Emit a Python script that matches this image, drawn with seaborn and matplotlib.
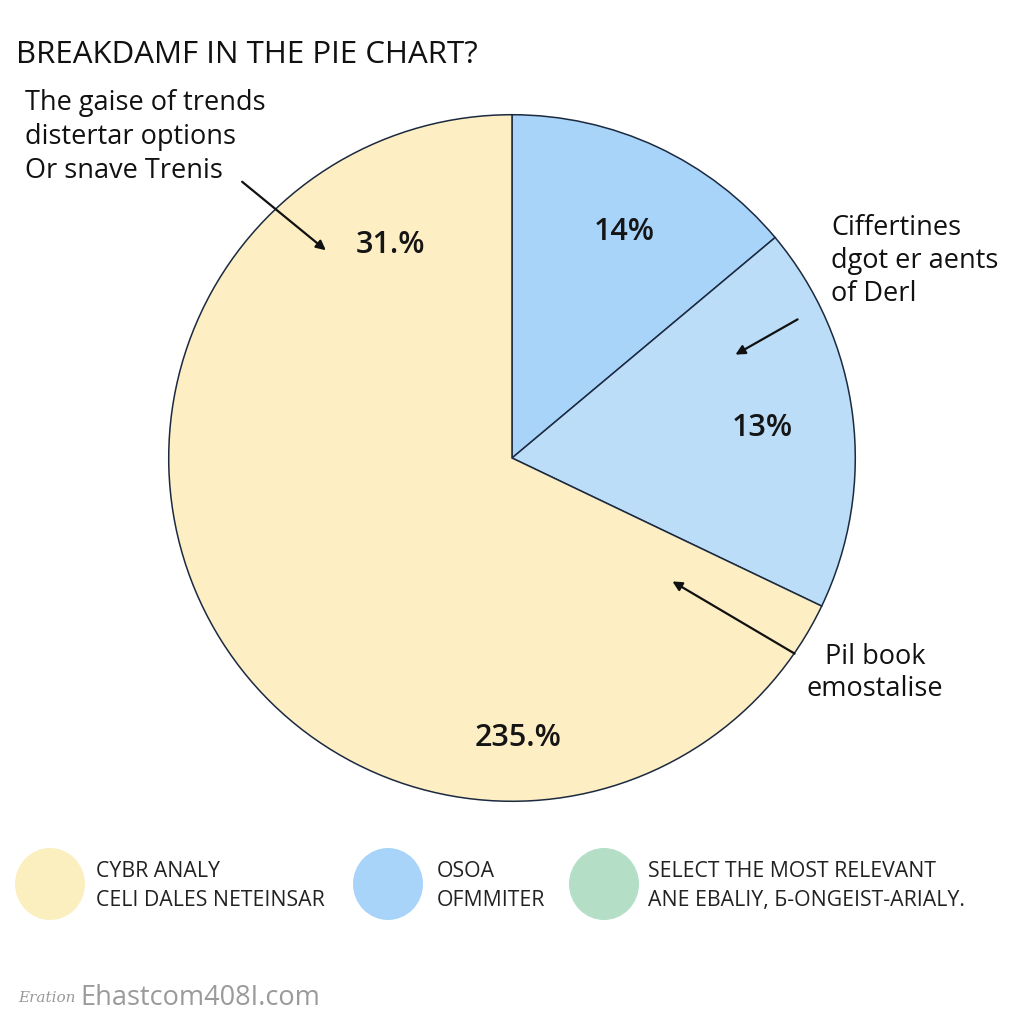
import matplotlib
matplotlib.use("Agg")
import matplotlib.pyplot as plt
from matplotlib.patches import Ellipse
import seaborn as sns

# slice shares (clockwise from 12 o'clock) and their colours
slice_names = ['Blue', 'Light blue', 'Yellow']
slice_shares = [13.9, 18.2, 67.9]
slice_colors = ['#A8D4FA', '#BBDDF7', '#FDEFC3']

# printed percentage labels inside the pie
pct_labels = ['14%', '13%', '31.%', '235.%']

title = 'BREAKDAMF IN THE PIE CHART?'
note_left = 'The gaise of trends\ndistertar options\nOr snave Trenis'
note_right = 'Ciffertines\ndgot er aents\nof Derl'
note_bottom = 'Pil book\nemostalise'

legend_labels = ['CYBR ANALY\nCELI DALES NETEINSAR',
                 'OSOA\nOFMMITER',
                 'SELECT THE MOST RELEVANT\nANE EBALIY, Б-ONGEIST-ARIALY.']
legend_colors = ['#FBEFC0', '#A8D4FA', '#B4DEC6']

sns.set_theme(style='white')
plt.rcParams['font.family'] = ['Open Sans', 'DejaVu Sans']

W = H = 1024
fig = plt.figure(figsize=(10.24, 10.24), dpi=100)
fig.patch.set_facecolor('white')


def fx(px):
    return px / W


def fy(py):
    return 1 - py / H


# pie axes: centre (512, 458), radius 345 px
cx, cy, r = 512, 458, 345
ax = fig.add_axes([fx(cx - r), fy(cy + r), 2 * r / W, 2 * r / H])
ax.pie(slice_shares, colors=slice_colors, startangle=90, counterclock=False,
       radius=1, wedgeprops=dict(edgecolor='#1c2a40', linewidth=1.1))
ax.set_xlim(-1.005, 1.005)
ax.set_ylim(-1.005, 1.005)
ax.set_aspect('equal')
ax.axis('off')

# percentage labels
pct_pos = [(624, 232), (762, 428), (390, 245), (518, 738)]
for lab, (px, py) in zip(pct_labels, pct_pos):
    fig.text(fx(px), fy(py), lab, ha='center', va='center', fontsize=22,
             fontweight='semibold', color='#151515')

# title and annotations
fig.text(fx(16), fy(55), title, ha='left', va='center', fontsize=22.5,
         color='#111111')
fig.text(fx(25), fy(137), note_left, ha='left', va='center', fontsize=19.5,
         color='#111111', linespacing=1.3)
fig.text(fx(831), fy(261), note_right, ha='left', va='center', fontsize=19.5,
         color='#111111', linespacing=1.25)
fig.text(fx(875), fy(673), note_bottom, ha='center', va='center', fontsize=19.5,
         color='#111111', linespacing=1.2)

# arrows
arrows = [((240, 180), (328, 252)), ((800, 318), (733, 356)), ((797, 655), (670, 580))]
for (x0, y0), (x1, y1) in arrows:
    fig.add_artist(matplotlib.patches.FancyArrowPatch(
        (fx(x0), fy(y0)), (fx(x1), fy(y1)), transform=fig.transFigure,
        arrowstyle='-|>', mutation_scale=14, color='#111111', linewidth=1.6))

# legend row
lax = fig.add_axes([0, 0, 1, 1], facecolor='none')
lax.set_xlim(0, W)
lax.set_ylim(H, 0)
lax.axis('off')
circle_x = [50, 388, 604]
text_x = [96, 437, 648]
for lab, col, px, tx in zip(legend_labels, legend_colors, circle_x, text_x):
    lax.add_patch(Ellipse((px, 884), 70, 72, facecolor=col, edgecolor='none'))
    lax.text(tx, 886, lab, ha='left', va='center', fontsize=15.3,
             color='#222222', linespacing=1.5)

# faint watermark
fig.text(fx(18), fy(998), 'Eration', ha='left', va='center', fontsize=11,
         style='italic', color='#9a9a9a', family=['DejaVu Serif'])
fig.text(fx(80), fy(998), 'Ehastcom408I.com', ha='left', va='center',
         fontsize=19.5, color='#9a9a9a')

fig.savefig('out.png', dpi=100, facecolor='white')
